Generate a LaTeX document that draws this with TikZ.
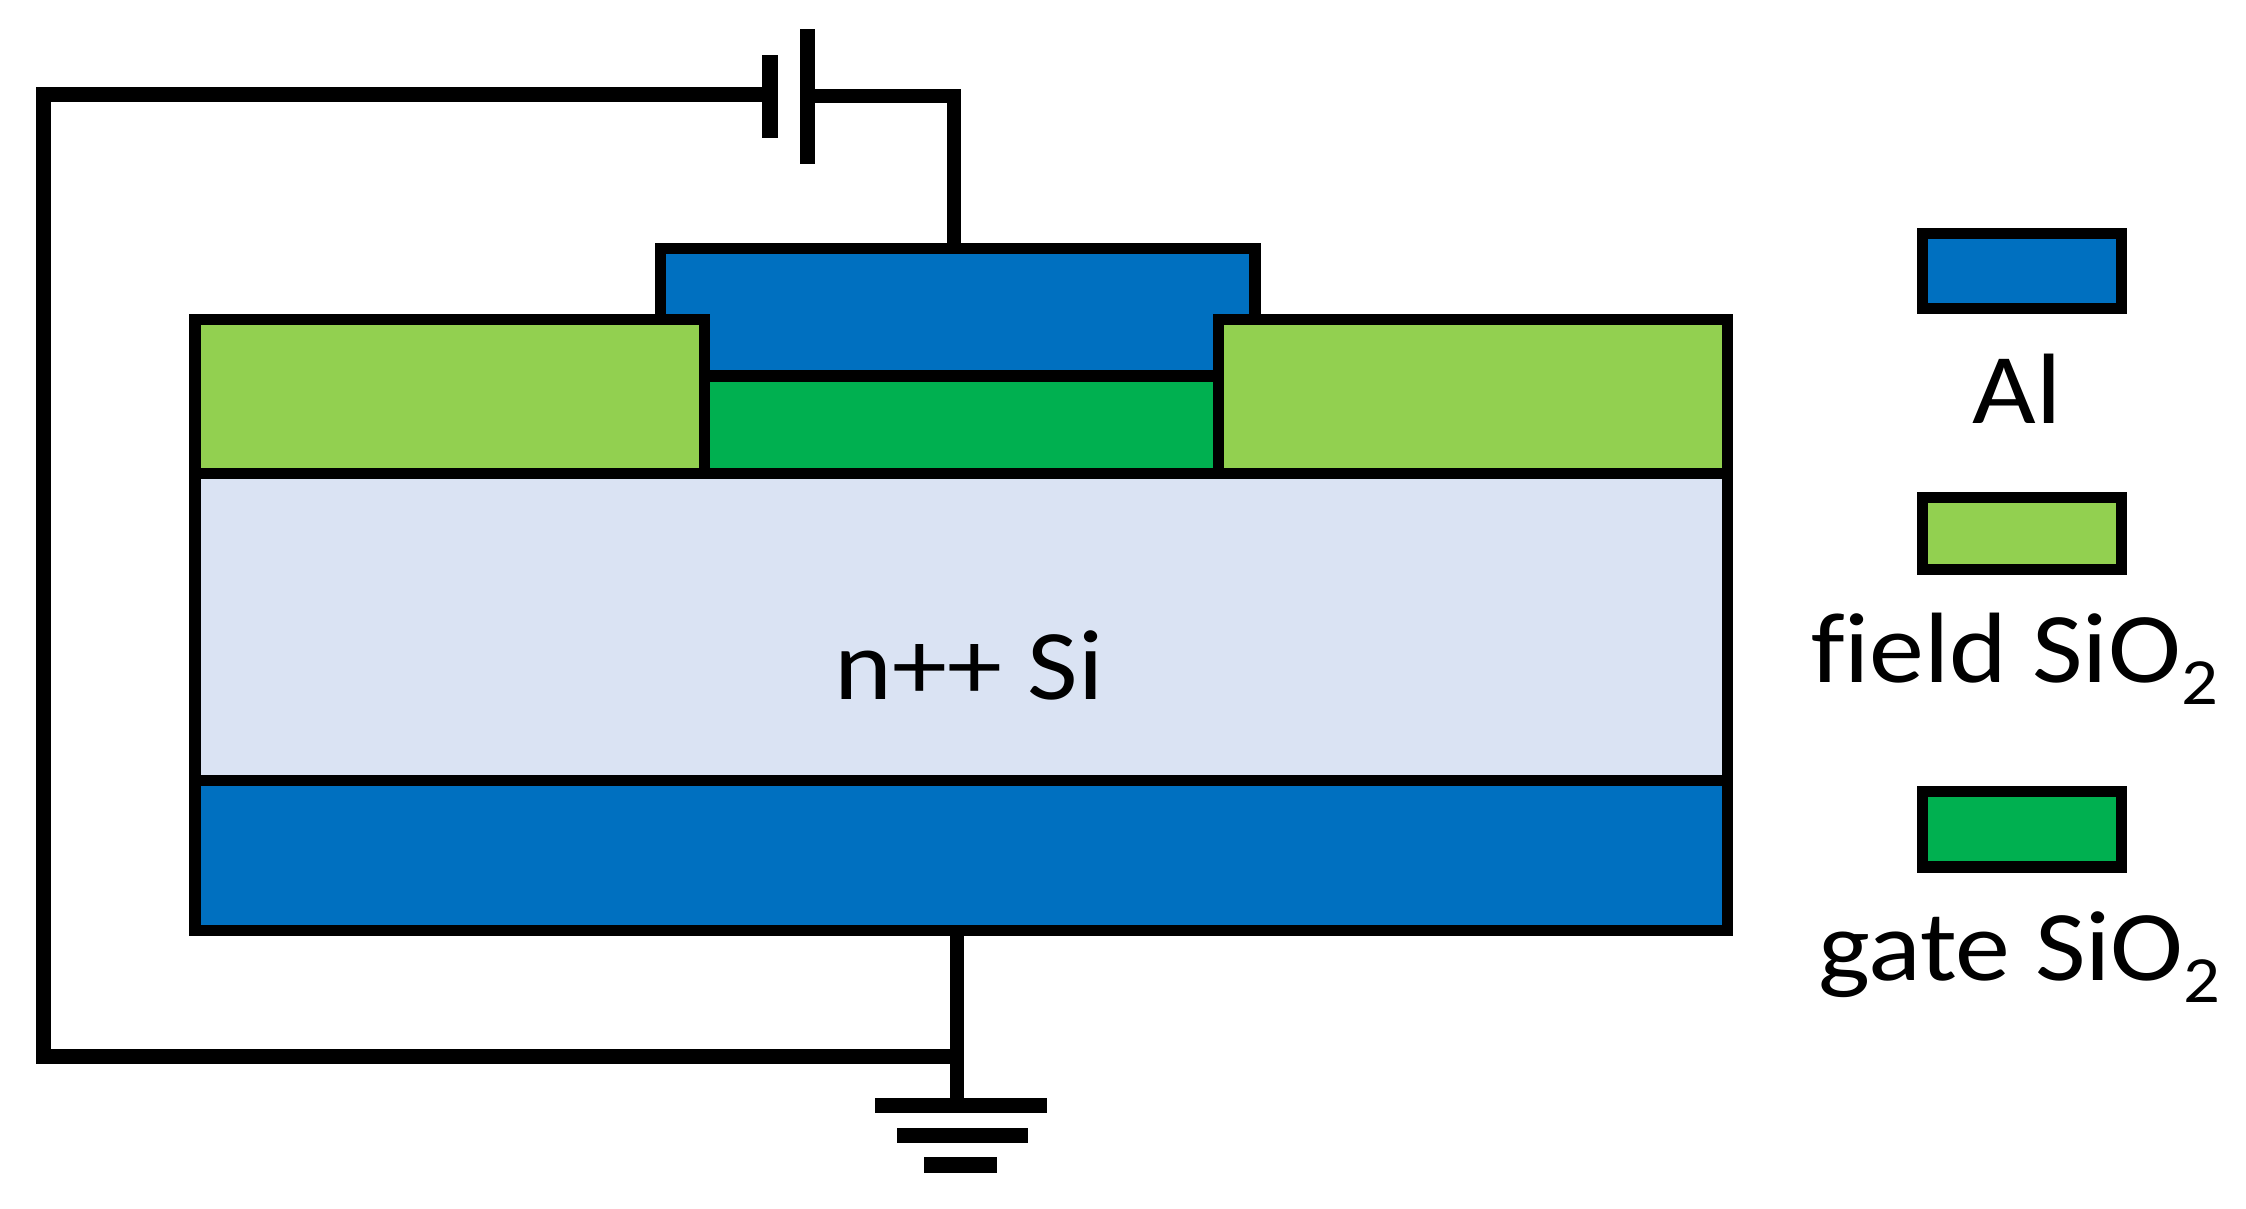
\documentclass[tikz,border=0pt]{standalone}
\usepackage{fontspec}
\setmainfont[FakeStretch=1.1, Ligatures=NoCommon]{Carlito}
\usetikzlibrary{positioning, calc}
\definecolor{alblue}{HTML}{0070C0}
\definecolor{fieldgreen}{HTML}{92D050}
\definecolor{gategreen}{HTML}{00B050}
\definecolor{silight}{HTML}{DAE3F3}
\tikzset{
  layer/.style={ draw, line width=11.5pt, inner sep=0, outer sep=0 }
}
\tikzset{
  bar/.style={ fill=black, inner sep=0, outer sep=0 }
}
\tikzset{
  wire/.style={ draw, line width=15pt, line join=miter }
}
\tikzset{
  lbl/.style={ anchor=base, inner sep=0, font=\fontsize{100}{110}\selectfont }
}
\newcommand{\subtwo}{\raisebox{-0.22em}{\fontsize{66}{70}\selectfont 2}}

\begin{document}
\begin{tikzpicture}[x=1pt, y=-1pt]
      \useasboundingbox (0, 0) rectangle (2246, 1209);

      % device stack
      \node[layer, fill=alblue, minimum width=594.5pt, minimum height=127.5pt] (gateAl) at (957.75, 312.25) {};
      \node[layer, fill=gategreen, minimum width=514pt, minimum height=97.5pt] (gateOx) at (961.5, 424.75) {};
      \node[layer, fill=fieldgreen, minimum width=509.5pt, minimum height=154pt] (fieldL) at (449.75, 396.5) {};
      \node[layer, fill=fieldgreen, minimum width=509pt, minimum height=154pt] (fieldR) at (1473, 396.5) {};
      \node[layer, fill=silight, minimum width=1532.5pt, minimum height=307pt] (si) at (961.25, 627) {};
      \node[layer, fill=alblue, minimum width=1532.5pt, minimum height=150pt] (backAl) at (961.25, 855.5) {};
      \node[lbl] (siText) at (969, 699) {n++ Si};

      % battery
      \node[bar, minimum width=16pt, minimum height=83pt] (plateS) at (770, 96.5) {};
      \node[bar, minimum width=15pt, minimum height=135pt] (plateL) at (807.5, 96.5) {};

      % ground
      \node[bar, minimum width=172.5pt, minimum height=15pt] (gnd1) at (960.75, 1105.5) {};
      \node[bar, minimum width=130.5pt, minimum height=15pt] (gnd2) at (962.25, 1135.5) {};
      \node[bar, minimum width=73.5pt, minimum height=16pt] (gnd3) at (960.25, 1165) {};

      \coordinate (gateTap) at (953.5, 248.5);
      \coordinate (backTap) at (957, 930.5);
      \coordinate (gndTap) at (957, 1098);
      \coordinate (loopTop) at (43, 94.5);
      \coordinate (loopBot) at (957, 1056.5);

      % wires
      \draw[wire, line width=14pt] (plateL.center) -| (gateTap);
      \draw[wire] (plateS.center |- loopTop) -- (loopTop) |- (loopBot);
      \draw[wire, line width=14.5pt] (backTap) -- (gndTap);

      % legend
      \node[layer, fill=alblue, minimum width=199pt, minimum height=75pt] (keyAl) at (2022, 271) {};
      \node[lbl] (keyAlText) at (2017, 423) {Al};
      \node[layer, fill=fieldgreen, minimum width=199pt, minimum height=72pt] (keyField) at (2022, 533.5) {};
      \node[lbl] (keyFieldText) at (2014.5, 682) {field SiO\subtwo};
      \node[layer, fill=gategreen, minimum width=199pt, minimum height=75.5pt] (keyGate) at (2022, 829) {};
      \node[lbl] (keyGateText) at (2019.5, 980) {gate SiO\subtwo};
    \end{tikzpicture}
\end{document}
